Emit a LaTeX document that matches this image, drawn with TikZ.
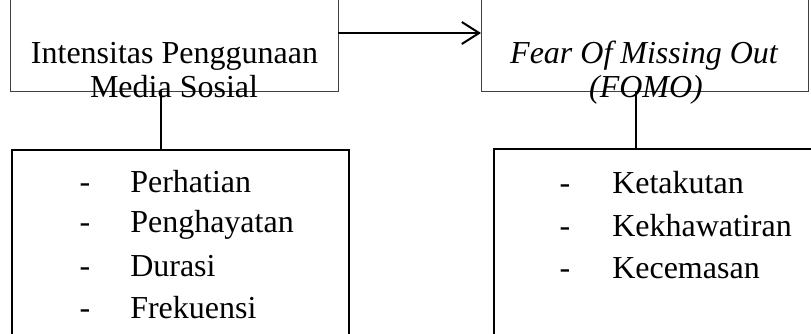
\documentclass[tikz,border=0pt]{standalone}
\usepackage{fontspec}
\setmainfont{Liberation Serif}
\usetikzlibrary{arrows.meta,calc}

\tikzset{
  varbox/.style={draw=black!75, line width=0.75pt, rectangle, inner sep=0pt, outer sep=0pt},
  listbox/.style={draw=black, line width=1.5pt, rectangle, inner sep=0pt, outer sep=0pt},
  txt/.style={inner sep=0pt, font=\fontsize{24}{30}\selectfont},
  link/.style={draw=black, line width=1.5pt},
  flow/.style={draw=black, line width=1.6pt, -{Straight Barb[length=13pt,width=16.5pt,line width=1.5pt]}}
}

\begin{document}
\begin{tikzpicture}[x=0.75pt,y=-0.75pt]
  \useasboundingbox (0,0) rectangle (811,333);
  \fill[white] (0,0) rectangle (811,333);
  \clip (0,0) rectangle (811,333);

  % variable boxes
  \node[varbox, minimum width=246pt, minimum height=87pt] (topL) at (174,33) {};
  \node[varbox, minimum width=245.25pt, minimum height=87pt] (topR) at (644.5,33) {};

  % indicator boxes (running past the lower and right edges)
  \node[listbox, minimum width=252.75pt, minimum height=165pt] (listL) at (180.5,260) {};
  \node[listbox, minimum width=267pt, minimum height=165.75pt] (listR) at (672,259.5) {};

  % variable names
  \node[txt, anchor=base] (tL1) at (174.5,63) {Intensitas Penggunaan};
  \node[txt, anchor=base] (tL2) at (174,97) {Media Sosial};
  \node[txt, anchor=base] (tR1) at (644,63) {\itshape Fear Of Missing Out};
  \node[txt, anchor=base] (tR2) at (646,97) {\itshape (FOMO)};

  % indicators of the first variable
  \foreach \t/\y/\n in {Perhatian/192/1, Penghayatan/232/2, Durasi/276/3, Frekuensi/318/4} {
    \node[txt, anchor=base] (dL\n) at (85,\y) {-};
    \node[txt, anchor=base west] (iL\n) at (130,\y) {\t};
  }

  % indicators of the second variable
  \foreach \t/\y/\n in {Ketakutan/193/1, Kekhawatiran/236/2, Kecemasan/278/3} {
    \node[txt, anchor=base] (dR\n) at (565,\y) {-};
    \node[txt, anchor=base west] (iR\n) at (612,\y) {\t};
  }

  % connectors
  \draw[flow] (topL.east) -- (topR.west);
  \coordinate (jL) at ($(topL.south)+(-13,0)$);
  \coordinate (jR) at ($(topR.south)+(-8.5,0)$);
  \draw[link] (jL) -- (jL |- listL.north);
  \draw[link] (jR) -- (jR |- listR.north);
\end{tikzpicture}
\end{document}
